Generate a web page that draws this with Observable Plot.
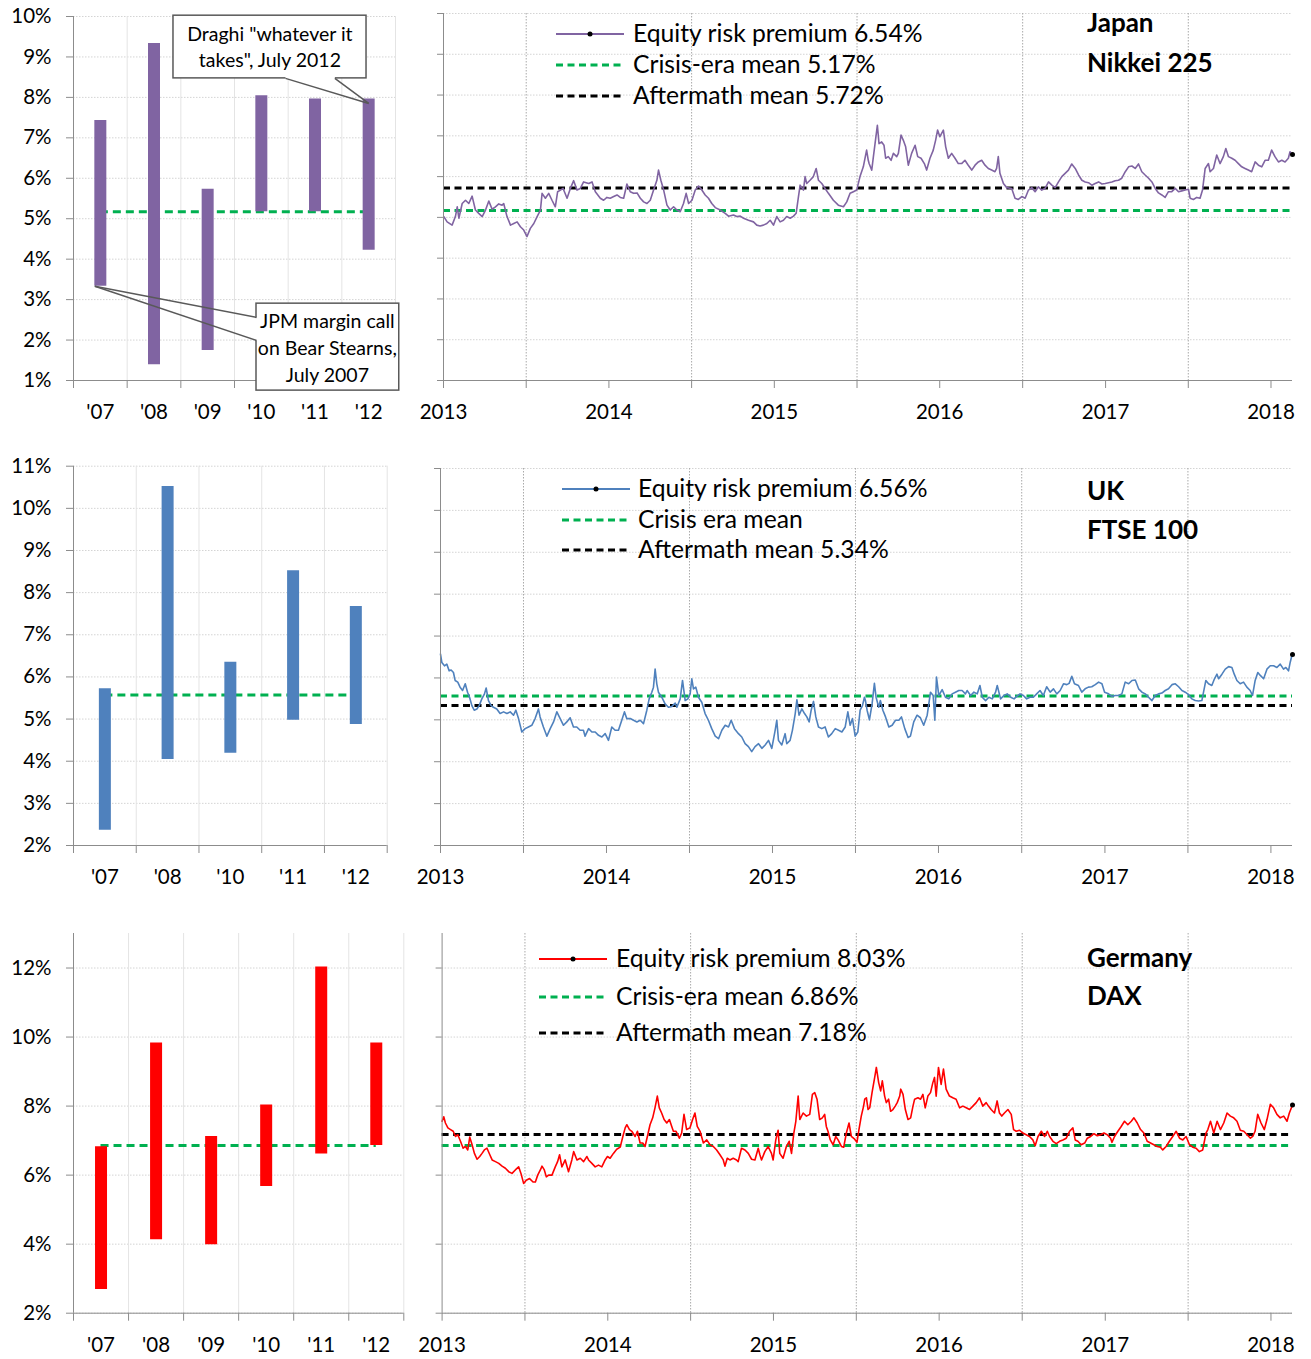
<!DOCTYPE html>
<html><head><meta charset="utf-8">
<script src="https://cdn.jsdelivr.net/npm/d3@7"></script>
<script src="https://cdn.jsdelivr.net/npm/@observablehq/plot@0.6"></script>
<style>
body{margin:0;background:#fff;}
#root{position:relative;width:1311px;height:1359px;font-family:Lato,"Open Sans",sans-serif;overflow:hidden;}
.leg{position:absolute;font-size:24.7px;color:#000;white-space:nowrap;line-height:1;}
.ttl{position:absolute;font-weight:bold;font-size:26px;color:#000;white-space:nowrap;line-height:1;}
</style></head><body><div id="root"></div>
<script>
// ---------------- DATA ----------------
const jpCats = ["'07","'08","'09","'10","'11","'12"];
const jpLow  = [3.33, 1.39, 1.74, 5.17, 5.17, 4.22];
const jpHigh = [7.43, 9.33, 5.73, 8.04, 7.96, 7.96];
const jpCrisisMean = 5.17, jpAfterMean = 5.72, jpLast = 6.54;

const ukCats = ["'07","'08","'10","'11","'12"];
const ukLow  = [2.36, 4.04, 4.19, 4.97, 4.87];
const ukHigh = [5.72, 10.52, 6.35, 8.52, 7.67];
const ukCrisisMean = 5.57, ukAfterMean = 5.34, ukLast = 6.56;

const deCats = ["'07","'08","'09","'10","'11","'12"];
const deLow  = [2.69, 4.13, 3.98, 5.67, 6.61, 6.86];
const deHigh = [6.82, 9.83, 7.12, 8.03, 12.03, 9.83];
const deCrisisMean = 6.86, deAfterMean = 7.18, deLast = 8.03;

const jpTicks = [1,2,3,4,5,6,7,8,9,10];
const ukTicks = [2,3,4,5,6,7,8,9,10,11];
const deTicks = [2,4,6,8,10,12];
const yearTicks = [2013,2014,2015,2016,2017,2018];

// equity risk premium series: [decimal year, %]
const jpSeries = [[2013.002,5.02],[2013.022,4.89],[2013.052,4.81],[2013.072,5.02],[2013.083,5.26],[2013.093,4.98],[2013.113,5.34],[2013.133,5.42],[2013.153,5.34],[2013.173,5.52],[2013.193,5.18],[2013.213,5.10],[2013.234,5.02],[2013.254,5.18],[2013.274,5.40],[2013.294,5.20],[2013.314,5.26],[2013.334,5.33],[2013.354,5.30],[2013.364,5.34],[2013.384,5.02],[2013.405,4.81],[2013.425,4.85],[2013.445,4.89],[2013.465,4.77],[2013.485,4.69],[2013.505,4.53],[2013.525,4.73],[2013.546,4.85],[2013.566,5.02],[2013.586,5.18],[2013.596,5.59],[2013.616,5.47],[2013.636,5.59],[2013.656,5.42],[2013.676,5.26],[2013.690,5.63],[2013.707,5.67],[2013.723,5.71],[2013.747,5.47],[2013.767,5.71],[2013.787,5.90],[2013.807,5.67],[2013.827,5.71],[2013.847,5.87],[2013.878,5.83],[2013.898,5.87],[2013.918,5.63],[2013.948,5.47],[2013.968,5.42],[2013.988,5.49],
[2014.008,5.47],[2014.029,5.51],[2014.049,5.55],[2014.069,5.49],[2014.089,5.47],[2014.109,5.82],[2014.129,5.63],[2014.149,5.59],[2014.170,5.60],[2014.190,5.47],[2014.210,5.38],[2014.230,5.34],[2014.250,5.42],[2014.270,5.67],[2014.290,5.91],[2014.300,6.16],[2014.314,5.91],[2014.331,5.67],[2014.351,5.30],[2014.371,5.18],[2014.391,5.26],[2014.411,5.18],[2014.431,5.14],[2014.451,5.34],[2014.467,5.59],[2014.482,5.34],[2014.502,5.42],[2014.522,5.67],[2014.542,5.77],[2014.562,5.67],[2014.582,5.55],[2014.602,5.47],[2014.622,5.34],[2014.643,5.24],[2014.673,5.18],[2014.703,5.10],[2014.723,5.03],[2014.753,5.06],[2014.773,5.02],[2014.794,5.03],[2014.814,4.98],[2014.844,4.93],[2014.874,4.89],[2014.894,4.81],[2014.914,4.79],[2014.934,4.81],[2014.955,4.85],[2014.975,4.93],[2014.995,4.81],
[2015.015,5.02],[2015.035,4.89],[2015.055,4.93],[2015.075,5.02],[2015.096,4.98],[2015.116,5.03],[2015.132,5.10],[2015.146,5.51],[2015.156,5.79],[2015.176,5.67],[2015.186,6.00],[2015.196,5.83],[2015.216,5.91],[2015.236,6.00],[2015.253,6.20],[2015.267,5.91],[2015.287,5.83],[2015.307,5.71],[2015.327,5.59],[2015.357,5.42],[2015.387,5.30],[2015.418,5.26],[2015.438,5.38],[2015.458,5.59],[2015.478,5.63],[2015.498,5.67],[2015.518,6.00],[2015.538,6.24],[2015.558,6.65],[2015.568,6.40],[2015.573,6.32],[2015.589,6.16],[2015.599,6.49],[2015.609,6.81],[2015.623,7.26],[2015.633,6.81],[2015.649,6.85],[2015.663,6.77],[2015.673,6.45],[2015.689,6.49],[2015.706,6.40],[2015.720,6.57],[2015.740,6.49],[2015.750,6.57],[2015.766,7.02],[2015.780,6.89],[2015.794,6.73],[2015.810,6.28],[2015.830,6.57],[2015.851,6.77],[2015.867,6.49],[2015.887,6.45],[2015.907,6.32],[2015.921,6.16],[2015.941,6.45],[2015.961,6.65],[2015.975,6.89],[2015.987,7.14],
[2016.001,6.98],[2016.022,7.14],[2016.036,6.73],[2016.052,6.45],[2016.072,6.57],[2016.092,6.45],[2016.112,6.32],[2016.132,6.32],[2016.152,6.40],[2016.172,6.28],[2016.193,6.16],[2016.213,6.28],[2016.233,6.36],[2016.253,6.40],[2016.273,6.28],[2016.293,6.20],[2016.313,6.16],[2016.333,6.12],[2016.343,6.20],[2016.353,6.49],[2016.363,6.08],[2016.384,5.83],[2016.404,5.73],[2016.434,5.71],[2016.454,5.47],[2016.474,5.44],[2016.495,5.51],[2016.515,5.47],[2016.535,5.67],[2016.555,5.73],[2016.575,5.63],[2016.595,5.75],[2016.615,5.67],[2016.635,5.71],[2016.656,5.87],[2016.676,5.79],[2016.696,5.73],[2016.716,5.87],[2016.736,6.00],[2016.756,6.08],[2016.776,6.16],[2016.796,6.31],[2016.817,6.20],[2016.837,6.04],[2016.857,5.91],[2016.877,5.87],[2016.897,5.85],[2016.917,5.79],[2016.937,5.83],[2016.958,5.87],[2016.978,5.82],[2016.998,5.83],
[2017.018,5.85],[2017.038,5.87],[2017.058,5.90],[2017.078,5.91],[2017.098,5.96],[2017.119,6.12],[2017.139,6.24],[2017.159,6.26],[2017.179,6.20],[2017.199,6.31],[2017.219,6.12],[2017.239,6.04],[2017.260,5.96],[2017.280,5.87],[2017.300,5.71],[2017.320,5.60],[2017.340,5.55],[2017.360,5.49],[2017.380,5.63],[2017.400,5.63],[2017.421,5.71],[2017.441,5.63],[2017.461,5.65],[2017.481,5.67],[2017.501,5.69],[2017.511,5.47],[2017.531,5.44],[2017.551,5.49],[2017.571,5.47],[2017.586,5.67],[2017.602,6.20],[2017.622,6.32],[2017.632,6.12],[2017.652,6.20],[2017.672,6.53],[2017.692,6.32],[2017.712,6.49],[2017.727,6.69],[2017.743,6.49],[2017.763,6.45],[2017.783,6.40],[2017.803,6.32],[2017.823,6.24],[2017.843,6.20],[2017.863,6.16],[2017.883,6.12],[2017.904,6.36],[2017.924,6.28],[2017.944,6.24],[2017.964,6.40],[2017.984,6.40],
[2018.004,6.65],[2018.024,6.49],[2018.045,6.36],[2018.065,6.40],[2018.085,6.36],[2018.105,6.45],[2018.115,6.61],[2018.130,6.54]];

const ukSeries = [[2013.000,6.57],[2013.008,6.37],[2013.024,6.29],[2013.038,6.33],[2013.052,6.17],[2013.064,6.19],[2013.078,6.13],[2013.088,5.94],[2013.104,5.90],[2013.118,5.78],[2013.133,5.70],[2013.149,5.86],[2013.163,5.66],[2013.175,5.54],[2013.189,5.34],[2013.203,5.23],[2013.219,5.26],[2013.233,5.34],[2013.249,5.50],[2013.265,5.62],[2013.275,5.76],[2013.289,5.46],[2013.305,5.34],[2013.319,5.30],[2013.339,5.26],[2013.359,5.15],[2013.380,5.19],[2013.400,5.15],[2013.420,5.19],[2013.440,5.11],[2013.454,5.23],[2013.470,5.03],[2013.490,4.71],[2013.510,4.79],[2013.530,4.83],[2013.550,4.87],[2013.570,5.03],[2013.590,5.26],[2013.600,5.07],[2013.620,4.83],[2013.641,4.61],[2013.661,4.79],[2013.681,4.95],[2013.701,5.19],[2013.721,5.03],[2013.741,4.87],[2013.761,4.95],[2013.781,5.05],[2013.801,4.83],[2013.821,4.83],[2013.841,4.75],[2013.861,4.75],[2013.871,4.61],[2013.892,4.79],[2013.912,4.71],[2013.932,4.71],[2013.952,4.63],[2013.972,4.59],[2013.992,4.67],
[2014.012,4.51],[2014.032,4.83],[2014.052,4.75],[2014.072,4.75],[2014.092,4.99],[2014.108,5.19],[2014.122,5.03],[2014.143,5.03],[2014.163,4.99],[2014.183,4.95],[2014.203,4.99],[2014.223,4.91],[2014.243,5.23],[2014.257,5.50],[2014.273,5.66],[2014.283,5.78],[2014.293,6.21],[2014.303,5.86],[2014.313,5.66],[2014.333,5.54],[2014.353,5.38],[2014.373,5.30],[2014.394,5.32],[2014.414,5.40],[2014.424,5.30],[2014.444,5.50],[2014.458,5.94],[2014.474,5.46],[2014.490,5.50],[2014.504,5.62],[2014.514,5.98],[2014.524,5.74],[2014.538,5.78],[2014.554,5.54],[2014.574,5.42],[2014.594,5.15],[2014.614,4.99],[2014.634,4.79],[2014.655,4.61],[2014.675,4.55],[2014.695,4.75],[2014.715,4.87],[2014.735,4.83],[2014.751,4.99],[2014.771,4.79],[2014.795,4.67],[2014.815,4.59],[2014.835,4.43],[2014.855,4.36],[2014.875,4.24],[2014.895,4.36],[2014.916,4.43],[2014.936,4.32],[2014.956,4.40],[2014.976,4.51],[2014.996,4.32],
[2015.016,4.75],[2015.026,4.99],[2015.036,4.51],[2015.056,4.40],[2015.076,4.67],[2015.086,4.43],[2015.106,4.51],[2015.120,4.75],[2015.137,5.15],[2015.147,5.48],[2015.160,5.11],[2015.177,5.26],[2015.193,5.15],[2015.207,5.07],[2015.221,4.95],[2015.233,5.23],[2015.247,5.44],[2015.261,5.07],[2015.277,4.83],[2015.297,4.79],[2015.317,4.83],[2015.337,4.59],[2015.357,4.67],[2015.378,4.79],[2015.398,4.75],[2015.418,4.71],[2015.438,4.83],[2015.454,5.19],[2015.468,4.87],[2015.482,5.03],[2015.498,4.61],[2015.514,4.71],[2015.528,5.23],[2015.542,5.34],[2015.554,5.54],[2015.560,5.46],[2015.570,5.23],[2015.584,5.00],[2015.600,5.38],[2015.614,5.87],[2015.624,5.54],[2015.640,5.30],[2015.650,5.46],[2015.665,5.23],[2015.681,5.07],[2015.701,4.83],[2015.721,4.87],[2015.741,4.99],[2015.761,4.99],[2015.777,5.07],[2015.797,4.79],[2015.817,4.58],[2015.831,4.61],[2015.851,4.95],[2015.871,5.11],[2015.891,5.05],[2015.911,4.87],[2015.932,5.11],[2015.952,5.66],[2015.968,5.58],[2015.978,4.99],[2015.988,6.02],
[2016.002,5.58],[2016.022,5.72],[2016.042,5.54],[2016.062,5.50],[2016.082,5.62],[2016.102,5.66],[2016.122,5.70],[2016.142,5.70],[2016.162,5.62],[2016.172,5.70],[2016.193,5.58],[2016.213,5.66],[2016.233,5.62],[2016.249,5.82],[2016.263,5.54],[2016.283,5.46],[2016.303,5.54],[2016.323,5.50],[2016.343,5.66],[2016.353,5.82],[2016.373,5.50],[2016.393,5.58],[2016.413,5.62],[2016.434,5.54],[2016.454,5.50],[2016.470,5.56],[2016.490,5.62],[2016.510,5.58],[2016.530,5.50],[2016.550,5.54],[2016.570,5.54],[2016.590,5.62],[2016.610,5.70],[2016.630,5.58],[2016.650,5.79],[2016.671,5.66],[2016.691,5.74],[2016.711,5.62],[2016.731,5.70],[2016.751,5.86],[2016.771,5.84],[2016.785,5.87],[2016.801,6.04],[2016.817,5.86],[2016.841,5.82],[2016.861,5.66],[2016.881,5.74],[2016.901,5.78],[2016.921,5.79],[2016.942,5.84],[2016.962,5.90],[2016.982,5.86],[2016.998,5.66],
[2017.022,5.62],[2017.042,5.56],[2017.062,5.58],[2017.082,5.58],[2017.102,5.62],[2017.122,5.90],[2017.143,5.86],[2017.163,5.94],[2017.183,5.95],[2017.203,5.74],[2017.223,5.66],[2017.243,5.62],[2017.263,5.54],[2017.283,5.46],[2017.303,5.58],[2017.323,5.62],[2017.343,5.64],[2017.363,5.70],[2017.383,5.74],[2017.404,5.84],[2017.424,5.86],[2017.444,5.79],[2017.464,5.70],[2017.484,5.66],[2017.504,5.60],[2017.524,5.50],[2017.544,5.46],[2017.564,5.45],[2017.584,5.46],[2017.594,5.66],[2017.608,5.94],[2017.624,5.86],[2017.644,5.82],[2017.660,5.98],[2017.675,6.09],[2017.685,5.98],[2017.705,6.09],[2017.725,6.21],[2017.745,6.27],[2017.765,6.25],[2017.779,6.09],[2017.795,5.94],[2017.815,5.86],[2017.835,5.90],[2017.855,5.78],[2017.875,5.70],[2017.889,5.58],[2017.905,5.94],[2017.921,6.13],[2017.936,6.06],[2017.956,5.98],[2017.976,6.21],[2017.996,6.29],
[2018.016,6.29],[2018.036,6.25],[2018.056,6.33],[2018.076,6.21],[2018.090,6.25],[2018.106,6.17],[2018.116,6.37],[2018.126,6.53],[2018.130,6.56]];

const deSeries = [[2013.000,7.56],[2013.010,7.69],[2013.020,7.51],[2013.035,7.37],[2013.051,7.32],[2013.067,7.27],[2013.081,7.12],[2013.095,7.17],[2013.111,6.98],[2013.127,6.78],[2013.141,6.83],[2013.155,6.73],[2013.167,7.10],[2013.181,6.88],[2013.195,6.63],[2013.211,6.46],[2013.227,6.54],[2013.241,6.63],[2013.255,6.73],[2013.271,6.78],[2013.288,6.59],[2013.302,6.44],[2013.322,6.39],[2013.342,6.34],[2013.362,6.26],[2013.382,6.20],[2013.402,6.10],[2013.422,6.05],[2013.442,6.15],[2013.462,6.24],[2013.476,6.05],[2013.492,5.76],[2013.508,5.85],[2013.528,5.90],[2013.549,5.80],[2013.563,5.80],[2013.577,6.00],[2013.593,6.15],[2013.603,6.26],[2013.617,6.15],[2013.629,5.95],[2013.643,6.00],[2013.663,6.00],[2013.683,6.24],[2013.697,6.39],[2013.709,6.59],[2013.723,6.24],[2013.743,6.44],[2013.763,6.10],[2013.783,6.44],[2013.794,6.68],[2013.814,6.44],[2013.834,6.49],[2013.854,6.39],[2013.874,6.54],[2013.884,6.44],[2013.904,6.34],[2013.924,6.24],[2013.944,6.29],[2013.964,6.24],[2013.984,6.44],[2013.998,6.54],
[2014.014,6.49],[2014.034,6.63],[2014.054,6.75],[2014.075,6.81],[2014.091,7.12],[2014.105,7.37],[2014.115,7.46],[2014.131,7.32],[2014.145,7.27],[2014.165,7.12],[2014.179,7.27],[2014.195,6.93],[2014.211,6.93],[2014.225,6.83],[2014.239,7.12],[2014.255,7.46],[2014.271,7.66],[2014.285,7.95],[2014.299,8.29],[2014.311,7.95],[2014.325,7.80],[2014.340,7.61],[2014.356,7.51],[2014.372,7.61],[2014.386,7.41],[2014.396,7.27],[2014.412,7.27],[2014.432,7.07],[2014.446,7.22],[2014.460,7.76],[2014.476,7.32],[2014.496,7.37],[2014.512,7.61],[2014.526,7.80],[2014.540,7.41],[2014.557,7.27],[2014.577,6.93],[2014.597,7.02],[2014.617,6.88],[2014.637,6.83],[2014.657,6.73],[2014.677,6.59],[2014.697,6.44],[2014.707,6.26],[2014.721,6.49],[2014.737,6.44],[2014.757,6.49],[2014.777,6.44],[2014.787,6.39],[2014.807,6.78],[2014.828,6.73],[2014.848,6.63],[2014.868,6.46],[2014.888,6.44],[2014.908,6.78],[2014.918,6.59],[2014.928,6.44],[2014.948,6.68],[2014.968,6.83],[2014.988,6.63],[2014.998,6.44],
[2015.014,7.02],[2015.028,7.30],[2015.038,6.63],[2015.058,6.49],[2015.078,6.83],[2015.095,6.98],[2015.109,6.63],[2015.123,7.22],[2015.135,7.56],[2015.149,8.29],[2015.159,7.61],[2015.179,7.80],[2015.199,7.71],[2015.219,7.76],[2015.235,8.34],[2015.249,8.39],[2015.263,8.20],[2015.279,7.61],[2015.295,7.66],[2015.309,7.76],[2015.319,7.41],[2015.329,7.27],[2015.343,7.02],[2015.360,6.88],[2015.376,7.12],[2015.390,7.02],[2015.410,6.83],[2015.424,6.81],[2015.440,7.22],[2015.456,7.51],[2015.470,7.12],[2015.490,7.04],[2015.504,6.95],[2015.516,7.32],[2015.530,7.71],[2015.544,8.00],[2015.551,8.20],[2015.561,8.24],[2015.571,7.90],[2015.581,7.95],[2015.595,8.39],[2015.611,8.83],[2015.621,9.12],[2015.635,8.68],[2015.647,8.44],[2015.657,8.73],[2015.671,8.29],[2015.681,8.10],[2015.695,8.20],[2015.707,7.85],[2015.721,7.90],[2015.735,8.00],[2015.747,8.10],[2015.762,8.29],[2015.768,8.49],[2015.782,8.34],[2015.796,7.90],[2015.812,7.61],[2015.828,7.66],[2015.842,8.00],[2015.852,8.20],[2015.872,8.24],[2015.888,8.20],[2015.902,8.34],[2015.916,7.95],[2015.932,8.29],[2015.948,8.39],[2015.962,8.68],[2015.972,8.83],[2015.982,8.29],[2015.996,9.12],
[2016.012,8.63],[2016.026,9.07],[2016.042,8.49],[2016.062,8.29],[2016.082,8.24],[2016.102,8.20],[2016.123,7.95],[2016.143,8.00],[2016.163,7.95],[2016.183,7.90],[2016.203,8.00],[2016.223,8.10],[2016.243,8.24],[2016.263,8.00],[2016.283,8.10],[2016.297,8.00],[2016.313,7.90],[2016.333,7.80],[2016.349,8.15],[2016.363,7.80],[2016.377,7.71],[2016.393,7.80],[2016.414,7.90],[2016.434,7.76],[2016.448,7.32],[2016.464,7.27],[2016.484,7.30],[2016.504,7.22],[2016.524,7.17],[2016.544,7.12],[2016.564,7.02],[2016.578,6.85],[2016.595,7.12],[2016.615,7.27],[2016.635,7.12],[2016.651,7.27],[2016.665,7.12],[2016.685,6.98],[2016.705,6.91],[2016.725,6.98],[2016.745,7.02],[2016.765,7.07],[2016.785,7.27],[2016.805,7.37],[2016.819,7.02],[2016.835,6.98],[2016.855,6.88],[2016.876,6.93],[2016.892,7.07],[2016.912,7.12],[2016.932,7.20],[2016.952,7.14],[2016.972,7.17],[2016.992,7.22],
[2017.012,7.17],[2017.032,7.07],[2017.040,6.95],[2017.056,7.12],[2017.076,7.27],[2017.096,7.41],[2017.116,7.56],[2017.136,7.46],[2017.157,7.56],[2017.173,7.66],[2017.193,7.51],[2017.213,7.32],[2017.233,7.22],[2017.253,6.98],[2017.273,6.93],[2017.293,6.88],[2017.313,6.83],[2017.333,6.81],[2017.347,6.73],[2017.367,6.83],[2017.387,6.98],[2017.407,7.12],[2017.428,7.27],[2017.448,7.07],[2017.468,7.02],[2017.488,7.12],[2017.508,6.88],[2017.528,6.81],[2017.548,6.78],[2017.568,6.68],[2017.588,6.73],[2017.608,7.22],[2017.619,7.32],[2017.635,7.56],[2017.655,7.22],[2017.675,7.56],[2017.695,7.32],[2017.715,7.51],[2017.735,7.80],[2017.755,7.71],[2017.775,7.66],[2017.795,7.56],[2017.815,7.30],[2017.836,7.27],[2017.856,7.17],[2017.876,7.07],[2017.890,7.12],[2017.904,7.27],[2017.920,7.76],[2017.940,7.51],[2017.960,7.32],[2017.976,7.61],[2017.996,8.05],
[2018.016,7.95],[2018.036,7.76],[2018.056,7.66],[2018.077,7.71],[2018.097,7.56],[2018.111,7.80],[2018.130,8.03]];

const endYear = 2018.13;

// callouts on the Japan crisis chart (data coordinates: x = category slot, y = %)
const jpNotes = [
  {lines:['Draghi "whatever it','takes", July 2012'], lineY:[9.555,8.912], cx:3.66,
   box:[1.863,5.46,8.47,10.02], tip:[5.5,7.85], base:[[3.95,8.47],[4.87,8.47]]},
  {lines:["JPM margin call","on Bear Stearns,","July 2007"], lineY:[2.458,1.79,1.123], cx:4.73,
   box:[3.41,6.07,0.75,2.90], tip:[0.397,3.33], base:[[3.41,2.56],[3.41,1.99]]}
];

// ---------------- HELPERS ----------------
const GREEN = "#00B050", AXIS = "#8c8c8c", GRID = "#d4d4d4";
const FONT = "Lato, 'Open Sans', sans-serif";
const toDate = t => { const y = Math.floor(t); const s = Date.UTC(y,0,1), e = Date.UTC(y+1,0,1); return new Date(s + (t-y)*(e-s)); };
const root = document.getElementById("root");

function place(el, left, top){ el.style.position="absolute"; el.style.left=left+"px"; el.style.top=top+"px"; root.appendChild(el); }

function leftChart(o){
  const n = o.cats.length, idx = d3.range(n);
  const marks = [
    Plot.ruleY(o.ticks, {stroke: GRID, strokeDasharray: "1.5,1.5"}),
    Plot.ruleX(d3.range(1, n+1), {stroke: "#e4e4e4"}),
    Plot.ruleY([o.mean], {x1: 0.5, x2: n-0.5, stroke: GREEN, strokeWidth: 3, strokeDasharray: "8,5"}),
    Plot.ruleX(idx, {x: i => i+0.5, y1: i => o.low[i], y2: i => o.high[i], stroke: o.color, strokeWidth: 12}),
    Plot.ruleX([0], {y1: o.domain[0], y2: o.domain[1], stroke: AXIS}),
    Plot.ruleY([o.domain[0]], {stroke: AXIS}),
    Plot.axisY({ticks: o.ticks, tickFormat: d => d + "%", tickSize: 7, tickPadding: 15, stroke: AXIS, fill: "#000"}),
    Plot.axisX({ticks: d3.range(0, n+1), tickFormat: () => "", tickSize: 8, stroke: AXIS}),
    Plot.axisX({ticks: idx.map(i => i+0.5), tickFormat: d => o.cats[Math.round(d-0.5)], tickSize: 0, tickPadding: 24, fill: "#000"})
  ];
  if (o.notes) for (const nt of o.notes) {
    const [x1,x2,y1,y2] = nt.box;
    marks.push(
      Plot.rect([0], {x1, x2, y1, y2, fill: "white", stroke: "#595959", strokeWidth: 1.5}),
      Plot.link([0], {x1: nt.base[0][0], y1: nt.base[0][1], x2: nt.base[1][0], y2: nt.base[1][1], stroke: "white", strokeWidth: 3}),
      Plot.link(nt.base, {x1: () => nt.tip[0], y1: () => nt.tip[1], x2: d => d[0], y2: d => d[1], stroke: "#595959", strokeWidth: 1.5}),
      Plot.text(nt.lines, {x: () => nt.cx, y: (d,i) => nt.lineY[i], text: d => d, fontSize: 19.5, fill: "#000"})
    );
  }
  const p = Plot.plot({
    width: o.width, height: o.height,
    marginLeft: o.ml, marginRight: o.mr, marginTop: o.mt, marginBottom: o.mb,
    style: {fontFamily: FONT, fontSize: "20.5px", color: "#000", background: "transparent", overflow: "visible"},
    x: {domain: [0, n], axis: null},
    y: {domain: o.domain, axis: null},
    marks
  });
  place(p, 0, o.top);
}

function rightChart(o){
  const x0 = toDate(2013), x1 = toDate(endYear);
  const mids = yearTicks.slice(0,5).map(y => toDate(y + 0.5));
  const halfs = yearTicks.flatMap(y => y < 2018 ? [toDate(y), toDate(y+0.5)] : [toDate(y)]);
  const p = Plot.plot({
    width: 911, height: o.height,
    marginLeft: o.ml, marginRight: 19, marginTop: o.mt, marginBottom: o.mb,
    style: {fontFamily: FONT, fontSize: "20.5px", color: "#000", background: "transparent", overflow: "visible"},
    x: {type: "utc", domain: [x0, x1], axis: null},
    y: {domain: o.domain, axis: null},
    marks: [
      Plot.ruleY(o.ticks, {stroke: GRID, strokeDasharray: "1.5,1.5"}),
      Plot.ruleX(mids, {stroke: "#a9a9a9", strokeDasharray: "1.5,1.5"}),
      Plot.ruleY([o.after], {stroke: "#000", strokeWidth: 3, strokeDasharray: "7,4.5"}),
      Plot.ruleY([o.crisis], {stroke: GREEN, strokeWidth: 3, strokeDasharray: "7,4.5"}),
      Plot.line(o.series, {x: d => toDate(d[0]), y: d => d[1], stroke: o.color, strokeWidth: 1.6}),
      Plot.dot([o.series[o.series.length-1]], {x: d => toDate(d[0]), y: d => d[1], r: 2.5, fill: "#000"}),
      Plot.ruleX([x0], {y1: o.domain[0], y2: o.domain[1], stroke: AXIS}),
      Plot.ruleY([o.domain[0]], {stroke: AXIS}),
      Plot.axisY({ticks: o.ticks, tickFormat: () => "", tickSize: 6, stroke: AXIS}),
      Plot.axisX({ticks: halfs, tickFormat: () => "", tickSize: 8, stroke: AXIS}),
      Plot.axisX({ticks: yearTicks.map(y => toDate(y)), tickFormat: d => String(d.getUTCFullYear()), tickSize: 0, tickPadding: 24, fill: "#000"})
    ]
  });
  place(p, 400, o.top);
}

function legend(o){
  const items = [
    {label: o.l1, kind: "eq"},
    {label: o.l2, kind: "green"},
    {label: o.l3, kind: "black"}
  ];
  items.forEach((it, i) => {
    const yc = o.rows[i];
    const svg = d3.create("svg").attr("width", o.lineW).attr("height", 12).style("overflow","visible");
    if (it.kind === "eq") {
      svg.append("line").attr("x1",0).attr("x2",o.lineW).attr("y1",6).attr("y2",6).attr("stroke",o.color).attr("stroke-width",2);
      svg.append("circle").attr("cx",o.lineW/2).attr("cy",6).attr("r",2.5).attr("fill","#000");
    } else {
      svg.append("line").attr("x1",0).attr("x2",o.lineW).attr("y1",6).attr("y2",6)
        .attr("stroke", it.kind === "green" ? GREEN : "#000").attr("stroke-width",3).attr("stroke-dasharray","7,4.5");
    }
    place(svg.node(), o.x, yc - 6);
    const t = document.createElement("div");
    t.className = "leg"; t.textContent = it.label;
    place(t, o.tx, yc - 13);
  });
  o.titles.forEach((s, i) => {
    const t = document.createElement("div");
    t.className = "ttl"; t.textContent = s;
    place(t, 1087, o.titleRows[i] - 13);
  });
}

// ---------------- JAPAN ----------------
leftChart({cats: jpCats, low: jpLow, high: jpHigh, mean: jpCrisisMean, color: "#8064A2",
  domain: [1,10], ticks: jpTicks, top: 0, width: 410, height: 430, ml: 73, mr: 15, mt: 16, mb: 50, notes: jpNotes});
rightChart({series: jpSeries, color: "#8064A2", crisis: jpCrisisMean, after: jpAfterMean,
  domain: [1,10], ticks: jpTicks, top: 0, height: 430, ml: 43, mt: 13, mb: 50});
legend({x: 556, lineW: 68, tx: 633, rows: [34, 65, 96], color: "#8064A2",
  l1: "Equity risk premium " + jpLast.toFixed(2) + "%", l2: "Crisis-era mean " + jpCrisisMean.toFixed(2) + "%", l3: "Aftermath mean " + jpAfterMean.toFixed(2) + "%",
  titles: ["Japan", "Nikkei 225"], titleRows: [22, 62]});

// ---------------- UK ----------------
leftChart({cats: ukCats, low: ukLow, high: ukHigh, mean: ukCrisisMean, color: "#4F81BD",
  domain: [2,11], ticks: ukTicks, top: 450, width: 410, height: 450, ml: 73, mr: 23.3, mt: 15.7, mb: 55});
rightChart({series: ukSeries, color: "#4F81BD", crisis: ukCrisisMean, after: ukAfterMean,
  domain: [2,11], ticks: ukTicks, top: 450, height: 450, ml: 40, mt: 18, mb: 55});
legend({x: 562, lineW: 68, tx: 638, rows: [489, 520, 550], color: "#4F81BD",
  l1: "Equity risk premium " + ukLast.toFixed(2) + "%", l2: "Crisis era mean", l3: "Aftermath mean " + ukAfterMean.toFixed(2) + "%",
  titles: ["UK", "FTSE 100"], titleRows: [490, 529]});

// ---------------- GERMANY ----------------
leftChart({cats: deCats, low: deLow, high: deHigh, mean: deCrisisMean, color: "#FF0000",
  domain: [2,13], ticks: deTicks, top: 920, width: 410, height: 439, ml: 73, mr: 6.7, mt: 13, mb: 46.3});
rightChart({series: deSeries, color: "#FF0000", crisis: deCrisisMean, after: deAfterMean,
  domain: [2,13], ticks: deTicks, top: 920, height: 439, ml: 41.6, mt: 13, mb: 46.3});
legend({x: 539, lineW: 68, tx: 616, rows: [959, 996.7, 1033], color: "#FF0000",
  l1: "Equity risk premium " + deLast.toFixed(2) + "%", l2: "Crisis-era mean " + deCrisisMean.toFixed(2) + "%", l3: "Aftermath mean " + deAfterMean.toFixed(2) + "%",
  titles: ["Germany", "DAX"], titleRows: [957, 995]});
</script></body></html>
